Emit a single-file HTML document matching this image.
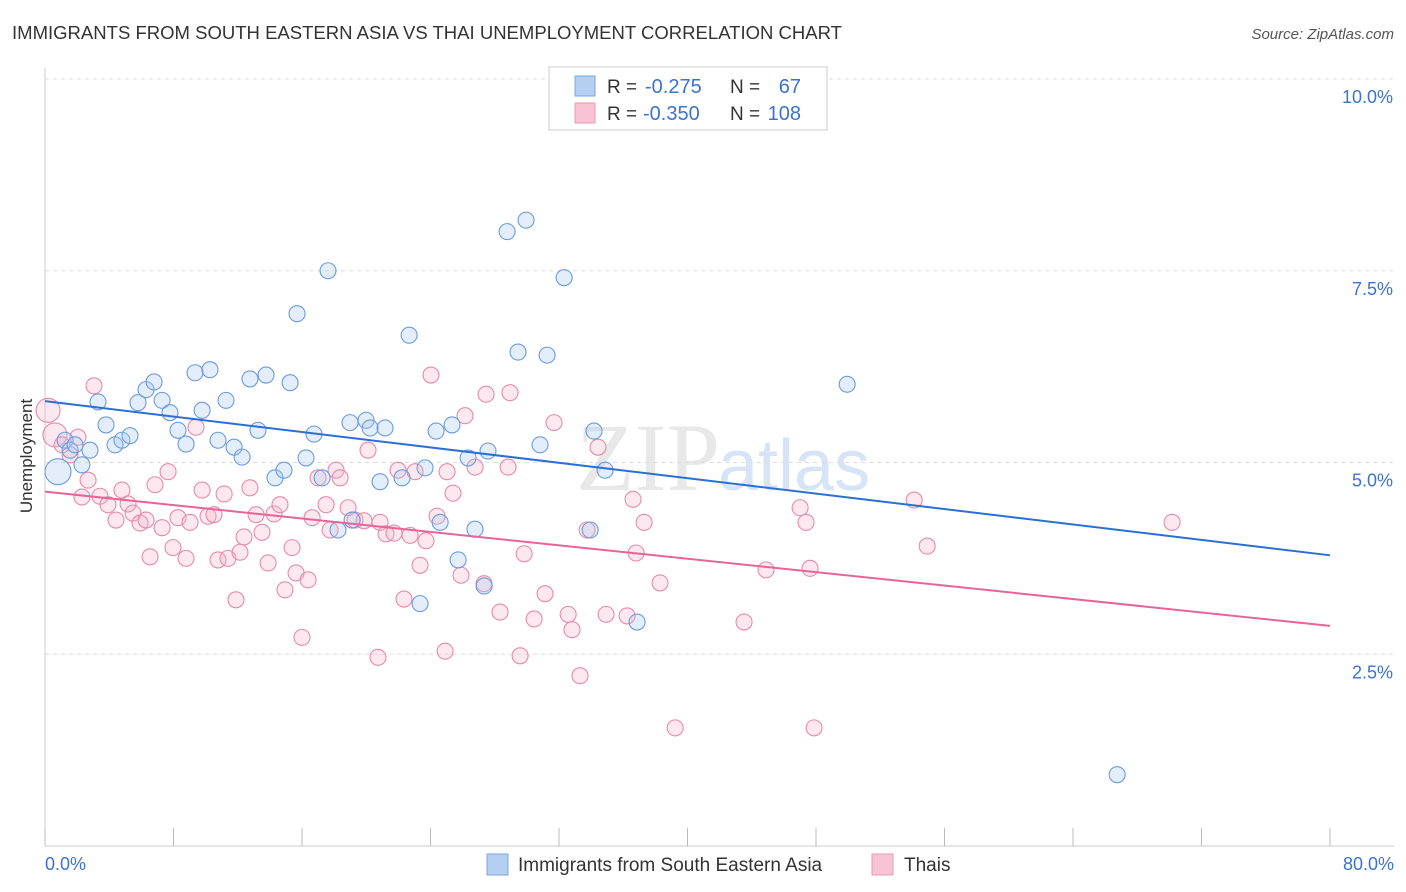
<!DOCTYPE html>
<html><head><meta charset="utf-8"><style>
body{margin:0;background:#fff;font-family:"Liberation Sans",sans-serif;}
svg{display:block}
</style></head><body>
<svg width="1406" height="892" id="chart">
<text x="12" y="39" font-size="18" fill="#333" textLength="830" lengthAdjust="spacingAndGlyphs">IMMIGRANTS FROM SOUTH EASTERN ASIA VS THAI UNEMPLOYMENT CORRELATION CHART</text>
<text x="1394" y="39" font-size="15" fill="#555" text-anchor="end" font-style="italic">Source: ZipAtlas.com</text>
<text x="720" y="490" font-size="96" fill="#e8e8e8" text-anchor="end" font-family="Liberation Serif">ZIP</text>
<text x="718" y="490" font-size="72" fill="#d6e4f5">atlas</text>
<g id="grid"></g><g id="axes"></g><g id="pts"></g><g id="trends"></g>
<text x="32" y="456" font-size="17" fill="#333" text-anchor="middle" transform="rotate(-90 32 456)">Unemployment</text>
<g>
<rect x="549" y="67" width="278" height="63" fill="#fff" stroke="#ccc"/>
<rect x="575" y="76" width="20" height="20" fill="#b4cff2" stroke="#7aa6e0"/>
<rect x="575" y="103" width="20" height="20" fill="#f8c3d4" stroke="#e99ab5"/>
<text x="607" y="93" font-size="19" fill="#333">R =</text>
<text x="645" y="93" font-size="20" fill="#3b73d1">-0.275</text>
<text x="730" y="93" font-size="19" fill="#333">N =</text>
<text x="801" y="93" font-size="20" fill="#3b73d1" text-anchor="end">67</text>
<text x="607" y="120" font-size="19" fill="#333">R =</text>
<text x="643" y="120" font-size="20" fill="#3b73d1">-0.350</text>
<text x="730" y="120" font-size="19" fill="#333">N =</text>
<text x="801" y="120" font-size="20" fill="#3b73d1" text-anchor="end">108</text>
</g>
<g>
<rect x="487" y="854" width="21" height="21" fill="#b4cff2" stroke="#7aa6e0"/>
<text x="518" y="871" font-size="19" fill="#333">Immigrants from South Eastern Asia</text>
<rect x="872" y="854" width="21" height="21" fill="#f8c3d4" stroke="#e99ab5"/>
<text x="904" y="871" font-size="19" fill="#333">Thais</text>
</g>
</svg>
<script>
const blueX=[0.81,1.25,1.56,1.87,2.30,2.80,3.30,3.80,4.36,4.79,5.29,5.79,6.29,6.79,7.29,7.78,8.28,8.78,9.34,9.78,10.27,10.77,11.27,11.77,12.27,12.76,13.26,13.76,14.32,14.88,15.26,15.69,16.25,16.75,17.25,17.62,18.24,18.99,19.12,19.99,20.24,21.17,20.86,22.23,22.67,23.35,23.66,24.35,24.60,25.34,25.72,26.34,26.77,27.34,27.58,28.77,29.45,29.95,30.82,31.26,32.32,33.94,34.18,34.87,36.86,49.94,66.75];
const blueY=[4.88,5.29,5.16,5.23,4.97,5.16,5.79,5.49,5.23,5.29,5.35,5.78,5.95,6.05,5.81,5.65,5.42,5.24,6.17,5.68,6.21,5.29,5.81,5.20,5.07,6.09,5.42,6.14,4.80,4.90,6.04,6.94,5.06,5.37,4.80,7.50,4.12,5.52,4.25,5.55,5.45,5.45,4.75,4.80,6.66,3.16,4.93,5.41,4.22,5.49,3.73,5.06,4.13,3.39,5.15,8.01,6.44,8.16,5.23,6.40,7.41,4.12,5.41,4.90,2.92,6.02,0.93];
const pinkX=[0.19,0.62,1.06,1.56,2.05,2.68,3.05,2.30,3.42,3.92,4.42,4.79,5.17,5.48,5.92,6.29,6.54,6.85,7.29,7.66,7.97,8.28,8.78,9.03,9.40,9.78,10.15,10.52,10.77,11.15,11.39,11.89,12.14,12.39,12.76,13.14,13.51,13.89,14.26,14.63,14.94,15.38,15.63,16.00,16.38,16.63,17.00,17.50,17.75,18.12,18.37,18.87,19.30,19.86,20.11,20.73,20.86,21.23,21.73,21.98,22.35,22.73,23.04,23.35,23.72,24.03,24.41,24.91,25.03,25.40,25.90,26.15,26.77,27.33,27.46,28.33,28.83,28.95,29.58,29.83,30.45,31.13,31.69,32.57,32.81,33.31,33.75,34.43,34.93,36.24,36.61,36.80,37.30,38.29,39.23,43.52,44.89,47.01,47.38,47.63,47.88,54.11,54.92,70.17];
const pinkY=[5.68,5.36,5.23,5.10,5.33,4.77,6.00,4.55,4.56,4.45,4.25,4.64,4.46,4.34,4.21,4.25,3.77,4.71,4.15,4.88,3.89,4.28,3.75,4.22,5.46,4.64,4.30,4.32,3.73,4.59,3.75,3.21,3.83,4.03,4.67,4.32,4.09,3.69,4.33,4.45,3.34,3.89,3.56,2.72,3.47,4.28,4.80,4.45,4.12,4.90,4.80,4.41,4.25,4.24,5.16,2.46,4.22,4.07,4.08,4.90,3.22,4.05,4.88,3.66,3.98,6.14,4.30,2.54,4.88,4.60,3.53,5.61,4.94,3.42,5.89,3.05,4.94,5.91,2.48,3.81,2.96,3.29,5.52,3.02,2.82,2.22,4.12,5.20,3.02,3.00,4.52,3.82,4.22,3.43,1.54,2.92,3.60,4.41,4.22,3.62,1.54,4.51,3.91,4.22];
const blueTrend=[5.80,3.79];
const pinkTrend=[4.62,2.87];
const yTicks=[2.5,5.0,7.5,10.0];
const xTicks=[0,8,16,24,32,40,48,56,64,72,80];
const NS='http://www.w3.org/2000/svg';
const sx=v=>45+v/80*1285;
const sy=v=>846-v/10*767;
function mk(tag,attrs,parent){const e=document.createElementNS(NS,tag);for(const k in attrs)e.setAttribute(k,attrs[k]);document.getElementById(parent).appendChild(e);return e;}
yTicks.forEach(t=>{
 const l=mk('line',{x1:45,x2:1394,y1:sy(t),y2:sy(t),stroke:'#ddd','stroke-dasharray':'4,4'},'grid');
 
 
 const tx=mk('text',{x:1393,y:sy(t)+24,'font-size':18,fill:'#3b73d1','text-anchor':'end'},'grid');
 tx.textContent=t.toFixed(1)+'%';
 
 
});
const ax=mk('line',{x1:45,x2:1394,y1:846,y2:846,stroke:'#ccc'},'axes');


const ay=mk('line',{x1:45,x2:45,y1:68,y2:846,stroke:'#ccc'},'axes');


xTicks.forEach(t=>{
 const l=mk('line',{x1:sx(t),x2:sx(t),y1:828,y2:846,stroke:'#bbb'},'axes');
 
 
});
[[0,'start'],[80,'end']].forEach(([t,a])=>{
 const tx=mk('text',{x:t===0?45:1394,y:870,'font-size':18,fill:'#3b73d1','text-anchor':a},'axes');
 tx.textContent=t.toFixed(1)+'%';
 
 
});
function pts(X,Y,fill,stroke,name){
 X.forEach((x,i)=>{
  const r=(i===0&&name==='blue-point')?13:((i<2&&name==='pink-point')?12:8);
  const c=mk('circle',{cx:sx(x),cy:sy(Y[i]),r:r,fill:fill,'fill-opacity':0.3,stroke:stroke,'stroke-width':1.1},'pts');
  
  
 });
}
pts(pinkX,pinkY,'#f5b3c8','#e88aaa','pink-point');
pts(blueX,blueY,'#a6c6ef','#6a9be0','blue-point');
[[blueTrend,'#2b6fd6','blue-trend-line'],[pinkTrend,'#e6649a','pink-trend-line']].forEach(([t,c,n])=>{
 const l=mk('line',{x1:sx(0),y1:sy(t[0]),x2:sx(80),y2:sy(t[1]),stroke:c,'stroke-width':2},'trends');
 
 
});
</script>
</body></html>
